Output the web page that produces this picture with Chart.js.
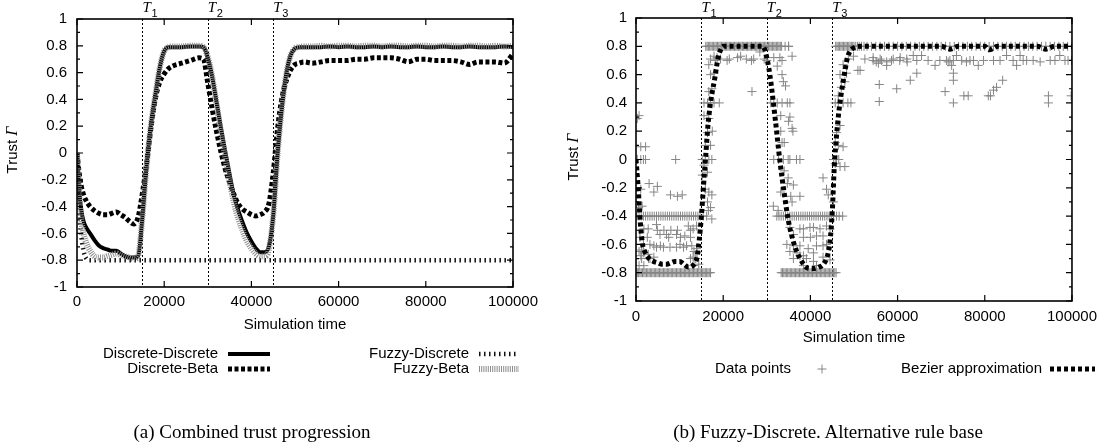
<!DOCTYPE html>
<html>
<head>
<meta charset="utf-8">
<title>Trust progression</title>
<script src="https://cdn.jsdelivr.net/npm/chart.js@4.4.1/dist/chart.umd.min.js"></script>
<style>
  body { margin: 0; background: #fff; }
  #wrap { position: relative; width: 1104px; height: 448px; overflow: hidden; }
  canvas { position: absolute; top: 0; }
  #chartA { left: 0; }
  #chartB { left: 552px; }
  .caption { position: absolute; top: 421px; width: 552px; text-align: center; color: #000;
             font: 19px "Liberation Serif", "Times New Roman", serif; line-height: 22px; }
  #capA { left: -24px; }
  #capB { left: 552px; }
</style>
</head>
<body>
<div id="wrap">
  <canvas id="chartA" width="552" height="448"></canvas>
  <canvas id="chartB" width="552" height="448"></canvas>
  <div class="caption" id="capA">(a) Combined trust progression</div>
  <div class="caption" id="capB">(b) Fuzzy-Discrete. Alternative rule base</div>
</div>
<script>
const SANS = '"Liberation Sans", Arial, sans-serif';
const SERIF = '"Liberation Serif", "Times New Roman", serif';
const FONT_SIZE = 15;

// phase changes T1..T3
const phaseTimes = [15000, 30000, 45000];
const phaseNames = ['1', '2', '3'];

// (a) combined trust progression
const timeA = [0, 500, 1000, 1500, 2000,
  3000, 4000, 5000, 6000, 7000, 8000, 9000, 10000, 11000, 12000, 13000, 14000, 15000, 16000, 17000, 18000, 19000, 20000, 21000, 22000,
  24000, 26000, 28000,
  29000, 30000, 31000, 32000, 33000, 34000, 35000, 36000, 37000, 38000, 39000, 40000, 41000, 42000, 43000, 44000, 45000, 46000, 47000, 48000, 49000, 50000, 51000, 52000,
  54000, 56000, 58000, 60000, 62000, 64000, 66000, 68000, 70000, 72000, 74000, 76000, 78000, 80000, 82000, 84000, 86000, 88000, 90000, 92000, 94000, 96000, 98000, 100000];
const discreteDiscrete = [0, -0.28, -0.43, -0.51, -0.55,
  -0.60, -0.65, -0.69, -0.71, -0.72, -0.73, -0.73, -0.75, -0.77, -0.78, -0.78, -0.77, -0.48, -0.08, 0.22, 0.44, 0.64, 0.76, 0.79, 0.79,
  0.79, 0.795, 0.795,
  0.79, 0.71, 0.57, 0.38, 0.19, 0.01, -0.16, -0.32, -0.43, -0.52, -0.60, -0.66, -0.71, -0.74, -0.74, -0.70, -0.47, -0.01, 0.34, 0.59, 0.73, 0.78, 0.79, 0.79,
  0.79, 0.79, 0.795, 0.79, 0.795, 0.79, 0.79, 0.795, 0.79, 0.795, 0.79, 0.79, 0.795, 0.79, 0.79, 0.795, 0.79, 0.79, 0.795, 0.79, 0.79, 0.79, 0.795, 0.79];
const discreteBeta = [0, -0.15, -0.25, -0.31, -0.35,
  -0.40, -0.43, -0.45, -0.46, -0.46, -0.45, -0.44, -0.46, -0.48, -0.51, -0.53, -0.48, -0.30, -0.07, 0.20, 0.41, 0.53, 0.59, 0.63, 0.65,
  0.67, 0.69, 0.71,
  0.70, 0.52, 0.33, 0.16, 0.01, -0.12, -0.22, -0.31, -0.38, -0.42, -0.44, -0.46, -0.47, -0.46, -0.44, -0.38, -0.15, 0.18, 0.41, 0.54, 0.62, 0.66, 0.67, 0.68,
  0.67, 0.68, 0.69, 0.69, 0.69, 0.70, 0.70, 0.71, 0.71, 0.71, 0.70, 0.68, 0.70, 0.70, 0.69, 0.69, 0.69, 0.68, 0.66, 0.68, 0.68, 0.68, 0.67, 0.74];
const fuzzyBeta = [0, -0.30, -0.50, -0.60, -0.66,
  -0.73, -0.77, -0.78, -0.78, -0.77, -0.76, -0.75, -0.76, -0.77, -0.78, -0.79, -0.77, -0.48, -0.08, 0.22, 0.44, 0.64, 0.76, 0.79, 0.795,
  0.795, 0.8, 0.8,
  0.79, 0.72, 0.57, 0.37, 0.16, -0.03, -0.21, -0.37, -0.49, -0.58, -0.66, -0.71, -0.75, -0.77, -0.77, -0.72, -0.47, -0.01, 0.34, 0.59, 0.73, 0.78, 0.79, 0.795,
  0.795, 0.8, 0.795, 0.8, 0.8, 0.795, 0.8, 0.8, 0.795, 0.8, 0.8, 0.795, 0.8, 0.8, 0.795, 0.8, 0.8, 0.795, 0.8, 0.8, 0.795, 0.8, 0.795, 0.8];
const timeFD = [0, 500, 1000, 1500, 2000, 3000, 100000];
const fuzzyDiscrete = [0, -0.42, -0.62, -0.73, -0.78, -0.8, -0.8];

// (b) fuzzy-discrete, alternative rule base
const timeB = [0, 500, 1000, 1500, 2000,
  3000, 4000, 5000, 6000, 7000, 8000, 9000, 10000, 11000, 12000, 13000,
  14000, 14500, 15000, 15500, 16000, 16500, 17000, 17500, 18000, 18500, 19000, 19500, 20000,
  22000, 25000, 28000, 29000, 29500, 30000, 30500, 31000,
  32000, 33000, 34000, 35000, 36000, 37000, 38000, 39000, 40000, 41000, 42000, 43000, 44000,
  44500, 45000, 45500, 46000, 46500, 47000, 47500, 48000, 48500, 49000,
  50000, 52000, 56000, 60000, 64000, 68000, 70000, 72000, 74000, 78000, 80000, 81000, 83000, 88000, 92000, 94000, 96000, 100000];
const bezier = [0, -0.2, -0.45, -0.6, -0.65,
  -0.7, -0.72, -0.73, -0.74, -0.74, -0.73, -0.72, -0.72, -0.74, -0.76, -0.75,
  -0.69, -0.57, -0.4, -0.18, 0.03, 0.24, 0.38, 0.48, 0.56, 0.66, 0.74, 0.78, 0.8,
  0.8, 0.8, 0.8, 0.8, 0.78, 0.72, 0.64, 0.53,
  0.27, -0.01, -0.24, -0.44, -0.57, -0.66, -0.72, -0.76, -0.77, -0.77, -0.76, -0.74, -0.67,
  -0.58, -0.38, -0.04, 0.17, 0.33, 0.45, 0.55, 0.64, 0.72, 0.76,
  0.79, 0.8, 0.8, 0.8, 0.8, 0.8, 0.8, 0.78, 0.8, 0.8, 0.8, 0.775, 0.8, 0.8, 0.8, 0.78, 0.8, 0.8];

// raw data points: dense rows at 0.8, -0.4, -0.8 plus loose points
const rowAt08 = [16000, 16300, 16600, 16900, 17200, 17500, 17800, 18100, 18400, 18700, 19000, 19300, 19600, 19900,
  20200, 20500, 20800, 21100, 21400, 21700, 22000, 22300, 22600, 22900, 23200, 23500, 23800, 24100, 24400, 24700,
  25000, 25300, 25600, 25900, 26200, 26500, 26800, 27100, 27400, 27700, 28000, 28300, 28600, 28900, 29200, 29500,
  29800, 30100, 30400, 30700, 31000, 31300, 31600, 31900, 32200, 32500, 32800, 33100, 33400, 34200, 35000,
  45800, 46100, 46400, 46700, 47000, 47300, 47600, 47900, 48200, 48500, 48800, 49100, 49400, 49700, 50000, 50400,
  50800, 51200, 51700, 52300, 53000, 54000, 55000, 56000, 57000, 58000, 59000, 60000, 61000, 62000, 63000, 64000,
  65000, 66000, 67000, 68000, 69000, 70000, 71000, 72000, 73000, 74000, 75000, 76000, 77000, 78000, 79000, 80000,
  81000, 82000, 83000, 84000, 85000, 86000, 87000, 88000, 89000, 90000, 91000, 92000, 93000, 94000, 95000, 96000,
  97000, 98000, 99000, 100000];
const rowAtM04 = [200, 700, 1200, 1700, 2200, 2700, 3200, 3700, 4200, 4700, 5200, 5700, 6200, 6700, 7200, 7700,
  8200, 8700, 9200, 9700, 10200, 10700, 11200, 11700, 12200, 12700, 13200, 13700, 14200, 14700, 15400,
  32300, 32800, 33300, 33800, 34300, 34800, 35300, 35800, 36300, 36800, 37300, 37800, 38300, 38800, 39300, 39800,
  40300, 40800, 41300, 41800, 42300, 42800, 43300, 43800, 44300, 44800, 45300, 46000, 46600, 47400];
const rowAtM08 = [0, 300, 600, 900, 1200, 1500, 1800, 2100, 2400, 2700, 3000, 3300, 3600, 3900, 4200, 4500, 4800,
  5100, 5400, 5700, 6000, 6300, 6600, 6900, 7200, 7500, 7800, 8100, 8400, 8700, 9000, 9300, 9600, 9900, 10200,
  10500, 10800, 11100, 11400, 11700, 12000, 12300, 12600, 12900, 13200, 13500, 13800, 14100, 14400, 14700, 15000,
  15300, 15600, 15900, 16200, 16500, 16800, 17100,
  33300, 33600, 33900, 34200, 34500, 34800, 35100, 35400, 35700, 36000, 36300, 36600, 36900, 37200, 37500, 37800,
  38100, 38400, 38700, 39000, 39300, 39600, 39900, 40200, 40500, 40800, 41100, 41400, 41700, 42000, 42300, 42600,
  42900, 43200, 43500, 43800, 44100, 44400, 44700, 45000, 45300, 45600, 45900];
const loosePoints = [
  [300, 0.29], [700, 0.31], [1100, 0.09], [2200, 0.09], [300, 0], [1100, 0], [1700, 0], [2200, 0], [9100, 0],
  [1100, -0.21], [3000, -0.17], [4100, -0.23], [4900, -0.19], [7900, -0.25], [9500, -0.26], [10600, -0.25],
  [600, -0.34], [1400, -0.33],
  [1800, -0.49], [2800, -0.49], [4700, -0.46], [4900, -0.5], [6400, -0.5], [8000, -0.5], [9500, -0.5], [12000, -0.47],
  [12500, -0.5], [13100, -0.49], [13900, -0.47],
  [5500, -0.53], [7000, -0.53], [9300, -0.53], [11200, -0.54], [900, -0.55], [2600, -0.55], [7500, -0.55], [10200, -0.55], [12500, -0.55],
  [1700, -0.6], [3200, -0.6], [4100, -0.61], [4700, -0.62], [5600, -0.61], [6300, -0.62], [7800, -0.62], [9300, -0.62],
  [10100, -0.6], [10900, -0.62], [11600, -0.61], [12800, -0.61], [13900, -0.63],
  [700, -0.65], [1300, -0.64], [1800, -0.66], [2800, -0.67], [13300, -0.65], [14000, -0.66],
  [1100, -0.68], [1300, -0.7], [2900, -0.7], [3200, -0.7], [4100, -0.69], [12500, -0.7], [13100, -0.69], [13700, -0.7],
  [700, -0.75], [1800, -0.75], [13300, -0.75], [14400, -0.74],
  [16200, -0.4], [16600, -0.36], [17400, -0.42],
  [15200, 0], [15900, 0], [16700, 0], [17400, 0], [15600, -0.04], [16400, -0.09], [15200, -0.11],
  [15900, -0.21], [16700, -0.23], [17400, -0.25], [16400, -0.3], [17100, -0.34],
  [15900, 0.1], [17100, 0.1], [16400, 0.19], [17500, 0.2], [15600, 0.31], [16700, 0.29],
  [15600, 0.4], [16400, 0.4], [17100, 0.4], [17900, 0.4], [19100, 0.4],
  [16700, 0.48], [17400, 0.5], [17100, 0.6], [17900, 0.61], [16700, 0.67], [18200, 0.7], [17100, 0.71], [18600, 0.72],
  [19400, 0.71], [17900, 0.73],
  [20900, 0.7], [21400, 0.71], [23300, 0.72], [24000, 0.73], [25300, 0.71], [26500, 0.7], [27000, 0.71], [28400, 0.76],
  [29400, 0.71], [30000, 0.7], [31600, 0.72], [32400, 0.66], [33500, 0.7], [35000, 0.8], [35800, 0.73], [33000, 0.72],
  [26600, 0.48],
  [33500, 0.6], [34300, 0.52], [33800, 0.55],
  [30900, 0.4], [31600, 0.4], [32400, 0.4], [33500, 0.4], [34700, 0.4], [35300, 0.4],
  [33200, 0.31], [35000, 0.27], [35300, 0.3], [33200, 0.2], [35800, 0.22], [34000, 0.12], [33500, 0.12], [36000, 0.2],
  [31600, 0], [32700, 0], [33800, 0], [34900, 0], [35300, 0], [36800, 0], [37600, 0],
  [34000, -0.08], [34900, -0.13], [34700, -0.17], [36100, -0.18], [33200, -0.23], [35500, -0.26], [37600, -0.26],
  [35800, -0.3], [31500, -0.33], [32600, -0.36],
  [35300, -0.48], [37600, -0.49], [38400, -0.49], [39900, -0.48], [40700, -0.48], [42200, -0.49], [43700, -0.47], [44500, -0.49],
  [36100, -0.53], [38400, -0.55], [41400, -0.54], [42900, -0.54], [40000, -0.55],
  [34600, -0.6], [36100, -0.61], [37600, -0.61], [39500, -0.63], [41400, -0.61], [42900, -0.61], [43700, -0.6],
  [35300, -0.65], [36900, -0.66], [38400, -0.68], [40700, -0.66],
  [36100, -0.7], [37600, -0.68], [39100, -0.7], [40700, -0.72], [42900, -0.69], [44500, -0.71], [38400, -0.75], [41400, -0.75],
  [42900, -0.13], [43700, -0.21], [44100, -0.25], [45300, -0.3], [45700, -0.03], [46800, -0.05], [47900, -0.05],
  [45300, 0], [46000, 0], [46500, 0],
  [46400, 0.1], [47500, 0.09], [45700, 0.12], [46000, 0.19], [46800, 0.24],
  [45700, 0.4], [46400, 0.4], [47500, 0.4], [48600, 0.4], [49300, 0.4],
  [46400, 0.45], [47100, 0.51], [47900, 0.55], [46800, 0.6], [48300, 0.61], [47500, 0.67], [48700, 0.71], [49900, 0.73],
  [51400, 0.63], [52500, 0.71], [54400, 0.72], [55100, 0.69], [56000, 0.71], [57500, 0.69], [59000, 0.71], [60600, 0.72], [62100, 0.71],
  [54400, 0.7], [55600, 0.68], [56300, 0.7], [57500, 0.665], [58600, 0.7], [60500, 0.7], [62200, 0.69], [63600, 0.735],
  [64400, 0.7], [65500, 0.735], [67000, 0.7], [68600, 0.665], [69700, 0.7], [71200, 0.7], [71600, 0.69], [72000, 0.7],
  [72400, 0.665], [72800, 0.7], [73500, 0.735], [74700, 0.7], [75800, 0.69], [76600, 0.7], [77400, 0.7], [78500, 0.665],
  [79700, 0.7], [82000, 0.7], [83500, 0.7], [85000, 0.735], [86500, 0.7], [87300, 0.665], [88100, 0.735], [88800, 0.7],
  [89600, 0.7], [91100, 0.7], [92700, 0.69], [95000, 0.7], [96100, 0.7], [97200, 0.735], [98400, 0.7], [99100, 0.7], [99900, 0.7],
  [50900, 0.63], [55800, 0.53], [55800, 0.41], [59800, 0.5], [62900, 0.56], [64400, 0.61], [72800, 0.61], [72800, 0.56],
  [70900, 0.48], [72800, 0.4], [75200, 0.45], [76200, 0.45], [80800, 0.45], [81300, 0.45], [82000, 0.49], [82700, 0.51],
  [84100, 0.56], [94600, 0.45], [94600, 0.4], [99800, 0.45]
];

function pairs(xs, ys) {
  return xs.map((x, i) => ({ x: x, y: ys[i] }));
}
function row(xs, level) {
  return xs.map(x => ({ x: x, y: level }));
}

const dataPoints = [].concat(
  row(rowAt08, 0.8), row(rowAtM04, -0.4), row(rowAtM08, -0.8),
  loosePoints.map(p => ({ x: p[0], y: p[1] }))
);

function drawCross(ctx, cx, cy, r) {
  ctx.beginPath();
  ctx.moveTo(cx - r, cy); ctx.lineTo(cx + r, cy);
  ctx.moveTo(cx, cy - r); ctx.lineTo(cx, cy + r);
  ctx.stroke();
}

// gnuplot-like frame: border, inward ticks, T marks, axis titles, key
const gnuplotFrame = {
  id: 'gnuplotFrame',
  beforeDatasetsDraw(chart) {
    const { ctx, chartArea: a, scales: { x } } = chart;
    ctx.save();
    ctx.strokeStyle = '#000';
    ctx.lineWidth = 1;
    ctx.setLineDash([2, 2]);
    phaseTimes.forEach(t => {
      const px = Math.round(x.getPixelForValue(t)) + 0.5;
      ctx.beginPath(); ctx.moveTo(px, a.top); ctx.lineTo(px, a.bottom); ctx.stroke();
    });
    ctx.restore();
  },
  afterDatasetsDraw(chart, args, opts) {
    const { ctx, chartArea: a, scales: { x, y } } = chart;
    ctx.save();
    ctx.strokeStyle = '#000';
    ctx.lineWidth = 1.6;
    ctx.strokeRect(a.left, a.top, a.right - a.left, a.bottom - a.top);

    ctx.lineWidth = 1.2;
    ctx.beginPath();
    const yt = y.ticks.map(t => t.value);
    yt.forEach((v, i) => {
      const py = y.getPixelForValue(v);
      ctx.moveTo(a.left, py); ctx.lineTo(a.left + 6, py);
      ctx.moveTo(a.right, py); ctx.lineTo(a.right - 6, py);
      if (i < yt.length - 1) {
        const pm = y.getPixelForValue((v + yt[i + 1]) / 2);
        ctx.moveTo(a.left, pm); ctx.lineTo(a.left + 3, pm);
        ctx.moveTo(a.right, pm); ctx.lineTo(a.right - 3, pm);
      }
    });
    x.ticks.forEach(t => {
      const px = x.getPixelForValue(t.value);
      ctx.moveTo(px, a.bottom); ctx.lineTo(px, a.bottom - 6);
      ctx.moveTo(px, a.top); ctx.lineTo(px, a.top + 6);
    });
    ctx.stroke();

    // T labels above the plot
    ctx.fillStyle = '#000';
    ctx.textBaseline = 'alphabetic';
    ctx.textAlign = 'left';
    phaseTimes.forEach((t, i) => {
      const px = x.getPixelForValue(t);
      ctx.font = 'italic 15px ' + SERIF;
      ctx.fillText('T', px, 12);
      ctx.font = '11px ' + SANS;
      ctx.fillText(phaseNames[i], px + 9, 16.5);
    });

    // axis titles
    ctx.font = FONT_SIZE + 'px ' + SANS;
    ctx.textAlign = 'center';
    ctx.textBaseline = 'middle';
    ctx.fillText('Simulation time', (a.left + a.right) / 2, opts.xTitleY);
    ctx.save();
    ctx.translate(opts.yTitleX, opts.yTitleY);
    ctx.rotate(-Math.PI / 2);
    ctx.font = FONT_SIZE + 'px ' + SANS;
    const w1 = ctx.measureText('Trust ').width;
    ctx.font = 'italic 16px ' + SERIF;
    const w2 = ctx.measureText('Γ').width;
    ctx.textAlign = 'left';
    ctx.font = FONT_SIZE + 'px ' + SANS;
    ctx.fillText('Trust ', -(w1 + w2) / 2, 0);
    ctx.font = 'italic 16px ' + SERIF;
    ctx.fillText('Γ', -(w1 + w2) / 2 + w1, 0);
    ctx.restore();

    // key
    opts.key.forEach(k => {
      const ds = chart.data.datasets[k.index];
      ctx.font = FONT_SIZE + 'px ' + SANS;
      ctx.textAlign = 'right';
      ctx.textBaseline = 'middle';
      ctx.fillStyle = '#000';
      ctx.fillText(ds.label, k.textRight, k.y);
      ctx.save();
      if (ds.showLine === false) {
        ctx.strokeStyle = ds.borderColor;
        ctx.lineWidth = 1;
        drawCross(ctx, (k.x1 + k.x2) / 2, k.y, 4.5);
      } else {
        ctx.strokeStyle = ds.borderColor;
        ctx.lineWidth = ds.borderWidth;
        ctx.setLineDash(ds.borderDash || []);
        ctx.beginPath(); ctx.moveTo(k.x1, k.y); ctx.lineTo(k.x2, k.y); ctx.stroke();
      }
      ctx.restore();
    });
    ctx.restore();
  }
};

function axes(yPad, xPad, yWidth, xHeight) {
  return {
    x: {
      type: 'linear', min: 0, max: 100000,
      afterFit: s => { s.height = xHeight; },
      grid: { display: false, drawTicks: false }, border: { display: false },
      ticks: { stepSize: 20000, autoSkip: false, maxRotation: 0, padding: xPad, color: '#000',
               font: { family: SANS, size: FONT_SIZE }, callback: v => String(v) }
    },
    y: {
      min: -1, max: 1,
      afterFit: s => { s.width = yWidth; },
      grid: { display: false, drawTicks: false }, border: { display: false },
      ticks: { stepSize: 0.2, autoSkip: false, padding: yPad, color: '#000',
               font: { family: SANS, size: FONT_SIZE }, callback: v => String(Number(v.toFixed(1))) }
    }
  };
}

const lineBase = { pointRadius: 0, fill: false, cubicInterpolationMode: 'monotone', showLine: true };

new Chart(document.getElementById('chartA'), {
  type: 'line',
  data: {
    datasets: [
      Object.assign({ label: 'Discrete-Discrete', data: pairs(timeA, discreteDiscrete),
        borderColor: '#000', borderWidth: 4, order: 2 }, lineBase),
      Object.assign({ label: 'Discrete-Beta', data: pairs(timeA, discreteBeta),
        borderColor: '#000', borderWidth: 5, borderDash: [4, 2.5], order: 1 }, lineBase),
      Object.assign({ label: 'Fuzzy-Discrete', data: pairs(timeFD, fuzzyDiscrete),
        borderColor: '#111', borderWidth: 4.5, borderDash: [1.5, 3.5], order: 3 }, lineBase),
      Object.assign({ label: 'Fuzzy-Beta', data: pairs(timeA, fuzzyBeta),
        borderColor: '#8c8c8c', borderWidth: 6, borderDash: [1, 1.2], order: 0 }, lineBase)
    ]
  },
  options: {
    responsive: false, animation: false, events: [],
    layout: { padding: { left: 0, top: 17, right: 39, bottom: 121 } },
    scales: axes(10, 6, 77, 40),
    plugins: {
      legend: { display: false }, tooltip: { enabled: false },
      gnuplotFrame: {
        xTitleY: 325, yTitleX: 13, yTitleY: 150,
        key: [
          { index: 0, textRight: 218, y: 354, x1: 228, x2: 270 },
          { index: 1, textRight: 218, y: 369, x1: 228, x2: 270 },
          { index: 2, textRight: 469, y: 354, x1: 479, x2: 519 },
          { index: 3, textRight: 469, y: 369, x1: 479, x2: 519 }
        ]
      }
    }
  },
  plugins: [gnuplotFrame]
});

new Chart(document.getElementById('chartB'), {
  type: 'line',
  data: {
    datasets: [
      { type: 'scatter', label: 'Data points', data: dataPoints, showLine: false,
        pointStyle: 'cross', pointRadius: 4.5, borderColor: '#858585', borderWidth: 1, order: 1 },
      Object.assign({ label: 'Bezier approximation', data: pairs(timeB, bezier),
        borderColor: '#000', borderWidth: 5, borderDash: [4, 3], order: 0 }, lineBase)
    ]
  },
  options: {
    responsive: false, animation: false, events: [],
    layout: { padding: { left: 0, top: 18, right: 32, bottom: 107 } },
    scales: axes(9, 7, 84, 40),
    plugins: {
      legend: { display: false }, tooltip: { enabled: false },
      gnuplotFrame: {
        xTitleY: 338, yTitleX: 21.5, yTitleY: 157,
        key: [
          { index: 0, textRight: 239, y: 369, x1: 260, x2: 280 },
          { index: 1, textRight: 490, y: 369, x1: 498, x2: 543 }
        ]
      }
    }
  },
  plugins: [gnuplotFrame]
});
</script>
</body>
</html>
